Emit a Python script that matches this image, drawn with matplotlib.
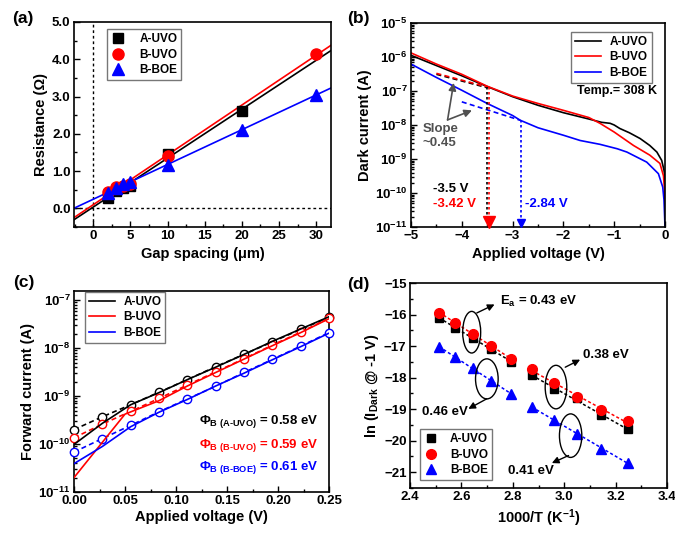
import numpy as np
import matplotlib
matplotlib.use("Agg")
import matplotlib.pyplot as plt
from matplotlib.patches import Ellipse
from matplotlib.ticker import MultipleLocator, LogLocator, NullFormatter, FormatStrFormatter

plt.rcParams['font.family'] = ['Liberation Sans', 'DejaVu Sans']
plt.rcParams['font.weight'] = 'bold'
plt.rcParams['axes.labelweight'] = 'bold'
plt.rcParams['mathtext.fontset'] = 'custom'
plt.rcParams['mathtext.rm'] = 'Liberation Sans:bold'
plt.rcParams['mathtext.bf'] = 'Liberation Sans:bold'
plt.rcParams['mathtext.it'] = 'Liberation Sans:italic:bold'
plt.rcParams['mathtext.sf'] = 'Liberation Sans:bold'
plt.rcParams['mathtext.default'] = 'regular'
plt.rcParams['axes.linewidth'] = 1.2

# ---------------- data: panel (a) ----------------
gap_a_uvo = [2, 3, 4, 5, 10, 20]
res_a_uvo = [0.28, 0.47, 0.55, 0.60, 1.47, 2.62]
gap_b_uvo = [2, 3, 4, 5, 10, 30]
res_b_uvo = [0.45, 0.58, 0.60, 0.65, 1.40, 4.13]
gap_b_boe = [2, 3, 4, 5, 10, 20, 30]
res_b_boe = [0.40, 0.55, 0.65, 0.70, 1.17, 2.10, 3.05]

# ---------------- data: panel (b) ----------------
v_dark_a = [-5.0, -4.5, -4.0, -3.5, -3.0, -2.5, -2.0, -1.5, -1.25, -1.08, -1.0, -0.89, -0.7,
            -0.49, -0.3, -0.16, -0.065, -0.02, -0.005, 0.0]
i_dark_a = [1.12e-6, 5.6e-7, 2.8e-7, 1.35e-7, 6.8e-8, 3.8e-8, 2.3e-8, 1.5e-8, 1.2e-8, 1.12e-8,
            1.0e-8, 7.9e-9, 5.9e-9, 4.0e-9, 2.5e-9, 1.6e-9, 9.1e-10, 4.7e-10, 3.2e-10, 2.0e-10]
v_dark_b = [-5.0, -4.5, -4.0, -3.5, -3.0, -2.5, -2.0, -1.5, -1.28, -1.0, -0.62, -0.3, -0.1,
            -0.03, -0.01, 0.0]
i_dark_b = [1.32e-6, 6.2e-7, 3.1e-7, 1.38e-7, 7.1e-8, 4.3e-8, 2.7e-8, 1.66e-8, 1.12e-8, 6.2e-9,
            2.5e-9, 1.3e-9, 7.4e-10, 3.2e-10, 1.26e-10, 5.0e-11]
v_dark_c = [-5.0, -4.5, -4.0, -3.5, -3.0, -2.85, -2.5, -2.0, -1.67, -1.28, -0.94, -0.75, -0.36,
            -0.13, -0.045, -0.02, -0.005, 0.0]
i_dark_c = [6.2e-7, 2.5e-7, 1.05e-7, 4.3e-8, 1.9e-8, 1.38e-8, 8.3e-9, 5.0e-9, 3.5e-9, 2.7e-9,
            2.0e-9, 1.6e-9, 8.1e-10, 3.7e-10, 1.5e-10, 6.3e-11, 1.6e-11, 1.0e-11]
# slope guide lines
slope_v_a = [-4.5, -3.5]
slope_i_a = [3.1e-7, 1.25e-7]
slope_v_b = [-4.5, -3.5]
slope_i_b = [3.3e-7, 1.32e-7]
slope_v_c = [-4.0, -2.85]
slope_i_c = [4.8e-8, 1.38e-8]
# breakdown voltages
vb_a, vb_b, vb_c = -3.5, -3.47, -2.84
vb_i_a, vb_i_b, vb_i_c = 1.3e-7, 1.35e-7, 1.38e-8

# ---------------- data: panel (c) ----------------
v_fit = [0.0, 0.0278, 0.0556, 0.0833, 0.1111, 0.1389, 0.1667, 0.1944, 0.2222, 0.25]
if_fit_a = [2.0e-10, 3.7e-10, 6.6e-10, 1.2e-9, 2.2e-9, 4.1e-9, 7.4e-9, 1.35e-8, 2.45e-8, 4.4e-8]
if_fit_b = [1.35e-10, 2.6e-10, 4.8e-10, 8.9e-10, 1.7e-9, 3.2e-9, 6.0e-9, 1.15e-8, 2.15e-8, 4.2e-8]
if_fit_c = [6.8e-11, 1.3e-10, 2.45e-10, 4.7e-10, 8.7e-10, 1.6e-9, 3.1e-9, 5.8e-9, 1.1e-8, 2.1e-8]
v_meas_a = [0.0, 0.0278, 0.0556, 0.0833, 0.1111, 0.1389, 0.1667, 0.1944, 0.2222, 0.25]
if_meas_a = [9.8e-11, 2.7e-10, 6.6e-10, 1.18e-9, 2.2e-9, 4.0e-9, 7.4e-9, 1.38e-8, 2.5e-8, 4.5e-8]
v_meas_b = [0.0, 0.05, 0.0833, 0.1111, 0.1389, 0.1667, 0.1944, 0.2222, 0.25]
if_meas_b = [2.0e-11, 4.2e-10, 8.0e-10, 1.62e-9, 3.1e-9, 5.9e-9, 1.12e-8, 2.1e-8, 4.1e-8]
v_meas_c = [0.0, 0.0278, 0.0556, 0.0833, 0.1111, 0.1389, 0.1667, 0.1944, 0.2222, 0.25]
if_meas_c = [3.9e-11, 8.9e-11, 2.3e-10, 4.6e-10, 8.5e-10, 1.62e-9, 3.0e-9, 5.7e-9, 1.07e-8, 2.05e-8]
phi_labels = [r'$\mathit{\Phi}_{\text{B (A-UVO)}}$ = 0.58 eV',
              r'$\mathit{\Phi}_{\text{B (B-UVO)}}$ = 0.59 eV',
              r'$\mathit{\Phi}_{\text{B (B-BOE)}}$ = 0.61 eV']

# ---------------- data: panel (d) ----------------
inv_t = [2.513, 2.577, 2.646, 2.717, 2.793, 2.874, 2.959, 3.049, 3.145, 3.247]
ln_a = [-16.11, -16.43, -16.74, -17.10, -17.50, -17.92, -18.36, -18.66, -19.20, -19.64]
ln_b = [-15.94, -16.26, -16.61, -17.01, -17.40, -17.74, -18.17, -18.60, -19.02, -19.39]
ln_c = [-17.03, -17.35, -17.71, -18.10, -18.52, -18.93, -19.33, -19.78, -20.25, -20.70]
ea_labels = [r'E$_{a}$ = 0.43 eV', '0.46 eV', '0.38 eV', '0.41 eV']

names = ['A-UVO', 'B-UVO', 'B-BOE']
cols = ['black', 'red', 'blue']

W, H = 675, 536
fig = plt.figure(figsize=(W / 100, H / 100), dpi=100)


def add_ax(l, r, t, b):
    return fig.add_axes([l / W, 1 - b / H, (r - l) / W, (b - t) / H])


def style(ax):
    ax.tick_params(which='both', direction='in', labelsize=9.5, width=1.0, pad=2.5)
    ax.tick_params(which='major', length=4)
    ax.tick_params(which='minor', length=2)


LAB = 10.5
LEGKW = dict(fontsize=8.5, frameon=True, fancybox=False, edgecolor='#555555', borderaxespad=0,
             labelspacing=0.3, borderpad=0.35)

# ================= (a) =================
ax = add_ax(74, 331, 22, 227)
style(ax)
ax.axvline(0, color='black', ls=(0, (2, 2)), lw=1.0)
ax.axhline(0, color='black', ls=(0, (2, 2)), lw=1.0)
xx = np.array([-2.6, 32])
specs_a = [(gap_a_uvo, res_a_uvo, 'black', 's', 7.5, names[0]),
           (gap_b_uvo, res_b_uvo, 'red', 'o', 8, names[1]),
           (gap_b_boe, res_b_boe, 'blue', '^', 8.5, names[2])]
for gx, ry, c, m, ms, nm in specs_a:
    p = np.polyfit(gx, ry, 1)
    ax.plot(xx, np.polyval(p, xx), color=c, lw=1.2, zorder=2)
for gx, ry, c, m, ms, nm in specs_a:
    ax.plot(gx, ry, ls='none', marker=m, ms=ms, color=c, label=nm, zorder=3)
ax.set_xlim(-2.6, 32)
ax.set_ylim(-0.5, 5.0)
ax.xaxis.set_major_locator(MultipleLocator(5))
ax.xaxis.set_minor_locator(MultipleLocator(2.5))
ax.yaxis.set_major_locator(MultipleLocator(1))
ax.yaxis.set_minor_locator(MultipleLocator(0.5))
ax.yaxis.set_major_formatter(FormatStrFormatter('%.1f'))
ax.set_xlabel('Gap spacing (μm)', fontsize=LAB, labelpad=3)
ax.set_ylabel('Resistance (Ω)', fontsize=LAB, labelpad=3)
leg = ax.legend(loc='upper left', bbox_to_anchor=(0.128, 0.966),
                handlelength=1.2, handletextpad=1.2, **LEGKW)
leg.get_frame().set_linewidth(1.0)

# ================= (b) =================
ax = add_ax(411, 665, 23, 227)
style(ax)
for v, i, c, nm in [(v_dark_a, i_dark_a, 'black', names[0]),
                    (v_dark_b, i_dark_b, 'red', names[1]),
                    (v_dark_c, i_dark_c, 'blue', names[2])]:
    ax.plot(v, i, color=c, lw=1.2, label=nm)
ax.plot(slope_v_a, slope_i_a, color='black', ls=(0, (3, 2)), lw=1.2)
ax.plot(slope_v_b, slope_i_b, color='red', ls=(0, (3, 2)), lw=1.2)
ax.plot(slope_v_c, slope_i_c, color='blue', ls=(0, (3, 2)), lw=1.2)
ax.plot([vb_a, vb_a], [vb_i_a, 1.3e-11], color='black', ls=(0, (1.5, 1.5)), lw=1.2)
ax.plot([vb_b, vb_b], [vb_i_b, 1.3e-11], color='red', ls=(0, (1.5, 1.5)), lw=1.2)
ax.plot([vb_c, vb_c], [vb_i_c, 1.3e-11], color='blue', ls=(0, (1.5, 1.5)), lw=1.2)
ax.plot([vb_b], [1.45e-11], marker='v', ms=8, color='red', clip_on=False, zorder=5)
ax.plot([vb_c], [1.35e-11], marker='v', ms=6, color='blue', clip_on=False, zorder=5)
ax.set_xlim(-5, 0)
ax.set_yscale('log')
ax.set_ylim(1e-11, 1e-5)
ax.xaxis.set_major_locator(MultipleLocator(1))
ax.xaxis.set_minor_locator(MultipleLocator(0.5))
ax.yaxis.set_major_locator(LogLocator(base=10, numticks=20))
ax.yaxis.set_minor_locator(LogLocator(base=10, subs=np.arange(2, 10), numticks=20))
ax.yaxis.set_minor_formatter(NullFormatter())
ax.set_xlabel('Applied voltage (V)', fontsize=LAB, labelpad=3)
ax.set_ylabel('Dark current (A)', fontsize=LAB, labelpad=2)
gray = '#505050'
for tip in [(-4.16, 10 ** -6.76), (-3.80, 10 ** -7.57)]:
    ax.annotate('', xy=tip, xytext=(-4.28, 10 ** -7.85),
                arrowprops=dict(arrowstyle='-|>', color=gray, lw=1.2, mutation_scale=11,
                                shrinkA=0, shrinkB=0))
ax.text(-4.78, 10 ** -7.93, 'Slope\n~0.45', color=gray, fontsize=9.5, ha='left', va='top',
        linespacing=1.25)
ax.text(-4.56, 10 ** -9.87, '-3.5 V', color='black', fontsize=9.5, ha='left', va='center')
ax.text(-4.56, 10 ** -10.31, '-3.42 V', color='red', fontsize=9.5, ha='left', va='center')
ax.text(-2.75, 10 ** -10.31, '-2.84 V', color='blue', fontsize=9.5, ha='left', va='center')
ax.text(-0.16, 10 ** -7.0, 'Temp.= 308 K', color='black', fontsize=9, ha='right', va='center')
leg = ax.legend(loc='upper right', bbox_to_anchor=(0.948, 0.957),
                handlelength=2.2, handletextpad=0.7, **LEGKW)
leg.get_frame().set_linewidth(1.0)

# ================= (c) =================
ax = add_ax(74, 329, 291, 492)
style(ax)
for v, i, c in [(v_fit, if_fit_a, 'black'), (v_fit, if_fit_b, 'red'), (v_fit, if_fit_c, 'blue')]:
    ax.plot(v, i, color=c, ls=(0, (3, 2)), lw=1.2, marker='o', ms=6, mfc='white', mew=1.0,
            clip_on=False, zorder=3)
for v, i, c, nm in [(v_meas_a, if_meas_a, 'black', names[0]),
                    (v_meas_b, if_meas_b, 'red', names[1]),
                    (v_meas_c, if_meas_c, 'blue', names[2])]:
    ax.plot(v, i, color=c, lw=1.2, label=nm, zorder=4)
ax.set_xlim(0, 0.25)
ax.set_yscale('log')
ax.set_ylim(1e-11, 1.55e-7)
ax.xaxis.set_major_locator(MultipleLocator(0.05))
ax.xaxis.set_minor_locator(MultipleLocator(0.025))
ax.xaxis.set_major_formatter(FormatStrFormatter('%.2f'))
ax.yaxis.set_major_locator(LogLocator(base=10, numticks=20))
ax.yaxis.set_minor_locator(LogLocator(base=10, subs=np.arange(2, 10), numticks=20))
ax.yaxis.set_minor_formatter(NullFormatter())
ax.set_xlabel('Applied voltage (V)', fontsize=LAB, labelpad=1.5)
ax.set_ylabel('Forward current (A)', fontsize=LAB, labelpad=2)
for lab, c, ly in zip(phi_labels, cols, [-9.53, -10.03, -10.48]):
    ax.text(0.123, 10 ** ly, lab, color=c, fontsize=9.5, ha='left', va='center')
leg = ax.legend(loc='upper left', bbox_to_anchor=(0.043, 0.997),
                handlelength=2.2, handletextpad=0.7, **LEGKW)
leg.get_frame().set_linewidth(1.0)

# ================= (d) =================
ax = add_ax(410, 667, 283, 488)
style(ax)
x_arr = np.array(inv_t)
for y, c, m, ms, nm in [(ln_a, 'black', 's', 5.5, names[0]),
                        (ln_b, 'red', 'o', 7, names[1]),
                        (ln_c, 'blue', '^', 7, names[2])]:
    y = np.array(y)
    for sl in (slice(0, 5), slice(5, 10)):
        p = np.polyfit(x_arr[sl], y[sl], 1)
        xs = np.array([x_arr[sl][0], x_arr[sl][-1]])
        ax.plot(xs, np.polyval(p, xs), color=c, ls=(0, (2, 1.5)), lw=1.1, zorder=2)
    ax.plot(x_arr, y, ls='none', marker=m, ms=ms, color=c, label=nm, zorder=3)
for (cx, cy, w, h) in [(2.640, -16.56, 0.070, 1.32), (2.699, -18.04, 0.088, 1.27),
                       (2.968, -18.30, 0.084, 1.38), (3.025, -19.84, 0.087, 1.38)]:
    ax.add_patch(Ellipse((cx, cy), w, h, fill=False, ec='black', lw=1.0, zorder=4))
arrows = [((2.660, -15.95), (2.729, -15.68)), ((2.699, -18.67), (2.627, -18.99)),
          ((3.004, -17.67), (3.062, -17.43)), ((3.017, -20.47), (2.952, -20.71))]
for tail, head in arrows:
    ax.annotate('', xy=head, xytext=tail,
                arrowprops=dict(arrowstyle='-|>', color='black', lw=1.0, mutation_scale=10,
                                shrinkA=0, shrinkB=0))
for lab, (tx, ty) in zip(ea_labels, [(2.751, -15.60), (2.448, -19.10), (3.075, -17.28),
                                     (2.783, -20.95)]):
    ax.text(tx, ty, lab, fontsize=9.5, ha='left', va='center')
ax.set_xlim(2.4, 3.4)
ax.set_ylim(-21.5, -15)
ax.xaxis.set_major_locator(MultipleLocator(0.2))
ax.xaxis.set_minor_locator(MultipleLocator(0.1))
ax.xaxis.set_major_formatter(FormatStrFormatter('%.1f'))
ax.yaxis.set_major_locator(MultipleLocator(1))
ax.yaxis.set_minor_locator(MultipleLocator(0.5))
ax.set_xlabel('1000/T (K$^{-1}$)', fontsize=LAB, labelpad=3)
ax.set_ylabel(r'ln (I$_{\text{Dark}}$ @ -1 V)', fontsize=LAB, labelpad=2)
leg = ax.legend(loc='lower left', bbox_to_anchor=(0.039, 0.0375),
                handlelength=1.2, handletextpad=1.0, **LEGKW)
leg.get_frame().set_linewidth(1.0)

for lab, (px, py) in zip(['(a)', '(b)', '(c)', '(d)'], [(12, 19), (347, 19), (13, 283), (347, 284)]):
    fig.text(px / W, 1 - py / H, lab, fontsize=12.5, fontweight='bold', ha='left', va='center')

fig.savefig('out.png', dpi=100)
